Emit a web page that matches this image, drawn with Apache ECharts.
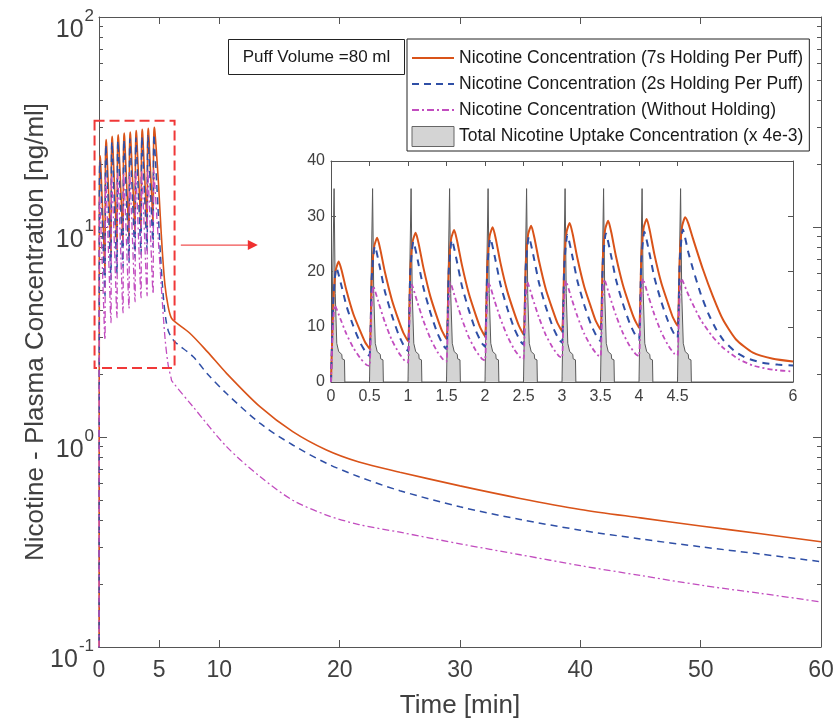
<!DOCTYPE html>
<html>
<head>
<meta charset="utf-8">
<script src="https://cdn.jsdelivr.net/npm/echarts@6/dist/echarts.min.js"></script>
<style>
html, body { margin: 0; padding: 0; background: #fff; }
#main { width: 837px; height: 724px; }
</style>
</head>
<body>
<div id="main"></div>
<script>
// puff phase, 0-6 min, [min, ng/ml]
var conc7s = [
  [0,0],[0.03,14.2],[0.06,20.1],[0.1,21.8],[0.14,20.1],[0.2,16.6],[0.29,12.3],[0.38,9.2],[0.44,7.3],
  [0.5,6.0],[0.53,19.1],[0.56,24.5],[0.6,26.1],[0.64,24.0],[0.7,19.9],[0.79,14.9],[0.88,11.1],[0.94,8.9],
  [1.0,7.4],[1.03,20.1],[1.06,25.4],[1.1,27.0],[1.14,24.9],[1.2,20.7],[1.29,15.5],[1.38,11.6],[1.44,9.3],
  [1.5,7.8],[1.53,20.6],[1.56,25.9],[1.6,27.5],[1.64,25.4],[1.7,21.2],[1.79,16.0],[1.88,12.1],[1.94,9.8],
  [2.0,8.3],[2.03,21.1],[2.06,26.4],[2.1,28.0],[2.14,25.9],[2.2,21.6],[2.29,16.4],[2.38,12.5],[2.44,10.2],
  [2.5,8.6],[2.53,21.4],[2.56,26.7],[2.6,28.3],[2.64,26.2],[2.7,22.0],[2.79,16.8],[2.88,13.0],[2.94,10.7],
  [3.0,9.2],[3.03,21.9],[3.06,27.2],[3.1,28.8],[3.14,26.7],[3.2,22.4],[3.29,17.2],[3.38,13.4],[3.44,11.0],
  [3.5,9.5],[3.53,22.3],[3.56,27.6],[3.6,29.2],[3.64,27.1],[3.7,22.8],[3.79,17.6],[3.88,13.7],[3.94,11.4],
  [4.0,9.8],[4.03,22.6],[4.06,27.9],[4.1,29.5],[4.14,27.4],[4.2,23.1],[4.29,17.9],[4.38,14.1],[4.44,11.7],
  [4.5,10.2],[4.53,22.9],[4.56,28.2],[4.6,29.8],[4.64,28.7],[4.7,26.0],[4.83,20.4],[4.96,15.5],
  [5.09,11.3],[5.26,7.7],[5.48,5.3],[5.74,4.2],[6.0,3.7]
];
var conc2s = [
  [0,0],[0.03,14.9],[0.07,20.7],[0.14,17.2],[0.2,13.8],[0.29,10.1],[0.38,7.1],[0.46,5.2],
  [0.5,4.7],[0.53,19.0],[0.57,24.6],[0.64,20.4],[0.7,16.4],[0.79,12.1],[0.88,8.5],[0.96,6.2],
  [1.0,5.6],[1.03,19.9],[1.07,25.4],[1.14,21.1],[1.2,17.1],[1.29,12.6],[1.38,8.9],[1.46,6.6],
  [1.5,6.0],[1.53,20.2],[1.57,25.7],[1.64,21.5],[1.7,17.4],[1.79,13.0],[1.88,9.3],[1.96,7.0],
  [2.0,6.4],[2.03,20.5],[2.07,26.0],[2.14,21.8],[2.2,17.7],[2.29,13.3],[2.38,9.7],[2.46,7.4],
  [2.5,6.8],[2.53,20.8],[2.57,26.3],[2.64,22.1],[2.7,18.0],[2.79,13.6],[2.88,10.0],[2.96,7.7],
  [3.0,7.1],[3.03,21.1],[3.07,26.6],[3.14,22.4],[3.2,18.3],[3.29,13.9],[3.38,10.3],[3.46,8.0],
  [3.5,7.4],[3.53,21.4],[3.57,26.9],[3.64,22.7],[3.7,18.6],[3.79,14.2],[3.88,10.6],[3.96,8.3],
  [4.0,7.7],[4.03,21.7],[4.07,27.2],[4.14,23.0],[4.2,18.9],[4.29,14.5],[4.38,10.9],[4.46,8.6],
  [4.5,8.0],[4.53,22.1],[4.57,27.6],[4.64,23.5],[4.7,20.5],[4.8,16.0],[4.9,12.4],[5.0,9.6],
  [5.1,7.5],[5.25,5.5],[5.4,4.3],[5.6,3.5],[5.8,3.15],[6.0,3.0]
];
var concNoHold = [
  [0,0],[0.02,8.3],[0.05,13.9],[0.12,11.5],[0.2,8.7],[0.29,6.2],[0.38,4.3],[0.46,3.1],
  [0.5,2.9],[0.52,11.5],[0.55,17.3],[0.62,14.3],[0.7,10.8],[0.79,7.6],[0.88,5.3],[0.96,3.8],
  [1.0,3.5],[1.02,12.0],[1.05,17.6],[1.12,14.5],[1.2,11.1],[1.29,7.9],[1.38,5.5],[1.46,4.0],
  [1.5,3.7],[1.52,12.3],[1.55,18.0],[1.62,14.9],[1.7,11.4],[1.79,8.1],[1.88,5.7],[1.96,4.2],
  [2.0,3.9],[2.02,12.4],[2.05,18.0],[2.12,14.9],[2.2,11.5],[2.29,8.3],[2.38,5.9],[2.46,4.4],
  [2.5,4.1],[2.52,12.5],[2.55,18.1],[2.62,15.1],[2.7,11.7],[2.79,8.5],[2.88,6.2],[2.96,4.7],
  [3.0,4.4],[3.02,12.7],[3.05,18.3],[3.12,15.3],[3.2,11.9],[3.29,8.7],[3.38,6.4],[3.46,4.9],
  [3.5,4.6],[3.52,13.0],[3.55,18.6],[3.62,15.5],[3.7,12.1],[3.79,8.9],[3.88,6.5],[3.96,5.0],
  [4.0,4.7],[4.02,13.1],[4.05,18.7],[4.12,15.6],[4.2,12.2],[4.29,9.0],[4.38,6.6],[4.46,5.1],
  [4.5,4.8],[4.52,13.2],[4.55,18.7],[4.65,15.5],[4.8,11.3],[4.95,8.3],[5.1,6.1],
  [5.3,4.1],[5.5,2.9],[5.75,2.2],[6.0,1.9]
];
// total uptake (x 4e-3), one spike per puff
var uptake = [
  [0,0],[0.04,35],[0.055,16],[0.075,7],[0.1,5.5],[0.14,5.0],[0.145,4.2],[0.175,4.0],[0.18,0],
  [0.5,0],[0.54,35],[0.555,16],[0.575,7],[0.6,5.5],[0.64,5.0],[0.645,4.2],[0.675,4.0],[0.68,0],
  [1.0,0],[1.04,35],[1.055,16],[1.075,7],[1.1,5.5],[1.14,5.0],[1.145,4.2],[1.175,4.0],[1.18,0],
  [1.5,0],[1.54,35],[1.555,16],[1.575,7],[1.6,5.5],[1.64,5.0],[1.645,4.2],[1.675,4.0],[1.68,0],
  [2.0,0],[2.04,35],[2.055,16],[2.075,7],[2.1,5.5],[2.14,5.0],[2.145,4.2],[2.175,4.0],[2.18,0],
  [2.5,0],[2.54,35],[2.555,16],[2.575,7],[2.6,5.5],[2.64,5.0],[2.645,4.2],[2.675,4.0],[2.68,0],
  [3.0,0],[3.04,35],[3.055,16],[3.075,7],[3.1,5.5],[3.14,5.0],[3.145,4.2],[3.175,4.0],[3.18,0],
  [3.5,0],[3.54,35],[3.555,16],[3.575,7],[3.6,5.5],[3.64,5.0],[3.645,4.2],[3.675,4.0],[3.68,0],
  [4.0,0],[4.04,35],[4.055,16],[4.075,7],[4.1,5.5],[4.14,5.0],[4.145,4.2],[4.175,4.0],[4.18,0],
  [4.5,0],[4.54,35],[4.555,16],[4.575,7],[4.6,5.5],[4.64,5.0],[4.645,4.2],[4.675,4.0],[4.68,0],
  [6.0,0]
];
// washout after the last puff (main plot only)
var tail7s = [[6.3,3.54],[7.55,3.12],[9,2.55],[10.6,2.01],[13.4,1.39],[16.1,1.06],[18.9,0.867],
  [21.6,0.76],[25,0.68],[30,0.585],[35,0.51],[40,0.452],[45,0.412],[50,0.377],[55,0.346],[60,0.317]];
var tail2s = [[6.3,2.84],[7.83,2.41],[9,2.0],[10.6,1.61],[13.4,1.16],[16.1,0.916],[18.9,0.75],
  [21.6,0.647],[25,0.555],[30,0.465],[35,0.405],[40,0.36],[45,0.327],[50,0.30],[55,0.277],[60,0.255]];
var tailNoHold = [[6.05,1.85],[7.83,1.39],[10.6,0.90],[13.4,0.647],[16.1,0.50],[18.9,0.425],
  [21.6,0.383],[25,0.352],[30,0.31],[35,0.275],[40,0.244],[45,0.219],[50,0.197],[55,0.18],[60,0.164]];

var names = [
  'Nicotine Concentration (7s Holding Per Puff)',
  'Nicotine Concentration (2s Holding Per Puff)',
  'Nicotine Concentration (Without Holding)',
  'Total Nicotine Uptake Concentration (x 4e-3)'
];
var xTicks = [0, 5, 10, 20, 30, 40, 50, 60];
var insetXTicks = [0, 0.5, 1, 1.5, 2, 2.5, 3, 3.5, 4, 4.5, 6];
var minorY = [0.2,0.3,0.4,0.5,0.6,0.7,0.8,0.9,2,3,4,5,6,7,8,9,20,30,40,50,60,70,80,90];

// zoom box and arrow (data coords of the main plot)
var zoomBox = { t0: -0.37, t1: 6.28, lo: 2.13, hi: 32.1 };
var arrowPos = { t0: 6.8, t1: 13.2, v: 8.2 };

var cOrange = '#d95319', cBlue = '#2f4fa6', cMag = '#c24dbf';
var txt = '#404040', axc = '#555';
var font = 'Liberation Sans, Arial, sans-serif';

function logSafe(arr) {
  return arr.map(function (p) { return [p[0], p[1] > 0 ? p[1] : 0.01]; });
}

var chart = echarts.init(document.getElementById('main'));

function mainY(pos, minor) {
  var ax = {
    type: 'log', logBase: 10, min: 0.1, max: 100, gridIndex: 0, position: pos,
    axisLine: { show: !minor, onZero: false, lineStyle: { color: axc } },
    axisTick: minor ? { inside: true, length: 4, customValues: minorY, lineStyle: { color: axc } }
                    : { inside: true, length: 8, lineStyle: { color: axc } },
    axisLabel: {
      show: pos === 'left' && !minor, margin: 5, color: txt, fontFamily: font,
      formatter: function (v) {
        return '{b|10}{s|' + Math.round(Math.log10(v)) + '}';
      },
      rich: {
        b: { fontSize: 25, fontFamily: font, color: txt, padding: [26, 0, 0, 0] },
        s: { fontSize: 17, fontFamily: font, color: txt, padding: [0, 0, 2, 1] }
      }
    },
    splitLine: { show: false },
    minorTick: { show: false }
  };
  if (pos === 'left' && !minor) {
    ax.name = 'Nicotine - Plasma Concentration [ng/ml]';
    ax.nameLocation = 'middle';
    ax.nameGap = 50;
    ax.nameMoveOverlap = false;
    ax.nameTextStyle = { fontSize: 26, color: txt, fontFamily: font };
  }
  return ax;
}

var puffBox = {
  type: 'group', left: 228, top: 39,
  children: [
    { type: 'rect', shape: { x: 0, y: 0, width: 176, height: 35 },
      style: { fill: '#fff', stroke: '#222', lineWidth: 1 } },
    { type: 'text', x: 88, y: 18,
      style: { text: 'Puff Volume =80 ml', fill: '#1a1a1a', font: '17px ' + font, align: 'center', verticalAlign: 'middle' } }
  ]
};

var hideSym = { opacity: 0 };

var option = {
  backgroundColor: '#fff',
  animation: false,
  textStyle: { fontFamily: font },
  grid: [
    { left: 99, top: 17, width: 722, height: 630, containLabel: false },
    { left: 331, top: 161, width: 462, height: 221, containLabel: false, show: true, backgroundColor: '#fff', borderWidth: 0 }
  ],
  legend: {
    orient: 'vertical', left: 407, top: 39,
    itemWidth: 42, itemHeight: 20, itemGap: 6,
    padding: [9, 6, 4, 4],
    borderColor: '#222', borderWidth: 1, backgroundColor: '#fff',
    selectedMode: false,
    textStyle: { fontSize: 17.5, lineHeight: 20, color: '#1a1a1a', fontFamily: font },
    data: [
      { name: names[0], itemStyle: hideSym },
      { name: names[1], itemStyle: hideSym },
      { name: names[2], itemStyle: hideSym },
      { name: names[3], icon: 'rect', itemStyle: { color: '#d4d4d4', borderColor: '#666', borderWidth: 1 } }
    ]
  },
  xAxis: [
    {
      type: 'value', gridIndex: 0, min: 0, max: 60, position: 'bottom',
      axisLine: { onZero: false, lineStyle: { color: axc } },
      axisTick: { inside: true, length: 7, customValues: xTicks, lineStyle: { color: axc } },
      axisLabel: { customValues: xTicks, fontSize: 23, color: txt, margin: 12, fontFamily: font },
      splitLine: { show: false },
      name: 'Time [min]', nameLocation: 'middle', nameGap: 46,
      nameTextStyle: { fontSize: 26, color: txt, fontFamily: font }
    },
    {
      type: 'value', gridIndex: 0, min: 0, max: 60, position: 'top',
      axisLine: { onZero: false, lineStyle: { color: axc } },
      axisTick: { inside: true, length: 7, customValues: xTicks, lineStyle: { color: axc } },
      axisLabel: { show: false }, splitLine: { show: false }
    },
    {
      type: 'value', gridIndex: 1, min: 0, max: 6, position: 'bottom',
      axisLine: { onZero: false, lineStyle: { color: axc } },
      axisTick: { inside: true, length: 5, customValues: insetXTicks, lineStyle: { color: axc } },
      axisLabel: { customValues: insetXTicks, fontSize: 16, color: txt, margin: 7, fontFamily: font },
      splitLine: { show: false }
    },
    {
      type: 'value', gridIndex: 1, min: 0, max: 6, position: 'top',
      axisLine: { onZero: false, lineStyle: { color: axc } },
      axisTick: { inside: true, length: 5, customValues: insetXTicks, lineStyle: { color: axc } },
      axisLabel: { show: false }, splitLine: { show: false }
    }
  ],
  yAxis: [
    mainY('left', false),
    mainY('left', true),
    mainY('right', false),
    mainY('right', true),
    {
      type: 'value', gridIndex: 1, min: 0, max: 40, interval: 10, position: 'left',
      axisLine: { show: true, onZero: false, lineStyle: { color: axc } },
      axisTick: { show: true, inside: true, length: 5, lineStyle: { color: axc } },
      axisLabel: { fontSize: 16, color: txt, margin: 6, fontFamily: font },
      splitLine: { show: false }
    },
    {
      type: 'value', gridIndex: 1, min: 0, max: 40, interval: 10, position: 'right',
      axisLine: { show: true, onZero: false, lineStyle: { color: axc } },
      axisTick: { show: true, inside: true, length: 5, lineStyle: { color: axc } },
      axisLabel: { show: false },
      splitLine: { show: false }
    }
  ],
  series: [
    {
      name: names[0], type: 'line', xAxisIndex: 0, yAxisIndex: 0, symbol: 'none',
      smooth: 0.3, clip: true, data: logSafe(conc7s.concat(tail7s)),
      color: cOrange, lineStyle: { color: cOrange, width: 1.6 }
    },
    {
      name: names[1], type: 'line', xAxisIndex: 0, yAxisIndex: 0, symbol: 'none',
      smooth: 0.3, clip: true, data: logSafe(conc2s.concat(tail2s)),
      color: cBlue, lineStyle: { color: cBlue, width: 1.5, type: [7, 5] }
    },
    {
      name: names[2], type: 'line', xAxisIndex: 0, yAxisIndex: 0, symbol: 'none',
      smooth: 0.3, clip: true, data: logSafe(concNoHold.concat(tailNoHold)),
      color: cMag, lineStyle: { color: cMag, width: 1.3, type: [7, 3, 2, 3] }
    },
    {
      name: names[3], type: 'line', xAxisIndex: 2, yAxisIndex: 4, symbol: 'none',
      data: uptake, color: '#d4d4d4',
      lineStyle: { color: '#5a5a5a', width: 1 },
      areaStyle: { color: '#d4d4d4', opacity: 1 }
    },
    {
      name: names[0], type: 'line', xAxisIndex: 2, yAxisIndex: 4, symbol: 'none',
      smooth: 0.2, data: conc7s, color: cOrange, lineStyle: { color: cOrange, width: 2 }
    },
    {
      name: names[1], type: 'line', xAxisIndex: 2, yAxisIndex: 4, symbol: 'none',
      smooth: 0.2, data: conc2s, color: cBlue, lineStyle: { color: cBlue, width: 2, type: [7, 6] }
    },
    {
      name: names[2], type: 'line', xAxisIndex: 2, yAxisIndex: 4, symbol: 'none',
      smooth: 0.2, data: concNoHold, color: cMag, lineStyle: { color: cMag, width: 1.8, type: [5, 3, 2, 3] }
    }
  ],
  graphic: [puffBox]
};
chart.setOption(option);

// red dashed zoom box and arrow, placed through the main axes
var p0 = chart.convertToPixel({ xAxisIndex: 0, yAxisIndex: 0 }, [zoomBox.t0, zoomBox.hi]);
var p1 = chart.convertToPixel({ xAxisIndex: 0, yAxisIndex: 0 }, [zoomBox.t1, zoomBox.lo]);
var a0 = chart.convertToPixel({ xAxisIndex: 0, yAxisIndex: 0 }, [arrowPos.t0, arrowPos.v]);
var a1 = chart.convertToPixel({ xAxisIndex: 0, yAxisIndex: 0 }, [arrowPos.t1, arrowPos.v]);
chart.setOption({
  graphic: [
    puffBox,
    {
      type: 'rect', z: 100,
      shape: { x: p0[0], y: p0[1], width: p1[0] - p0[0], height: p1[1] - p0[1] },
      style: { fill: 'none', stroke: '#f03838', lineWidth: 2, lineDash: [10, 5] }
    },
    {
      type: 'line', z: 100,
      shape: { x1: a0[0], y1: a0[1], x2: a1[0] - 8, y2: a1[1] },
      style: { stroke: '#f05050', lineWidth: 1.2 }
    },
    {
      type: 'polygon', z: 100,
      shape: { points: [[a1[0], a1[1]], [a1[0] - 10, a1[1] - 5], [a1[0] - 10, a1[1] + 5]] },
      style: { fill: '#f03030' }
    }
  ]
}, { replaceMerge: ['graphic'] });
</script>
</body>
</html>
